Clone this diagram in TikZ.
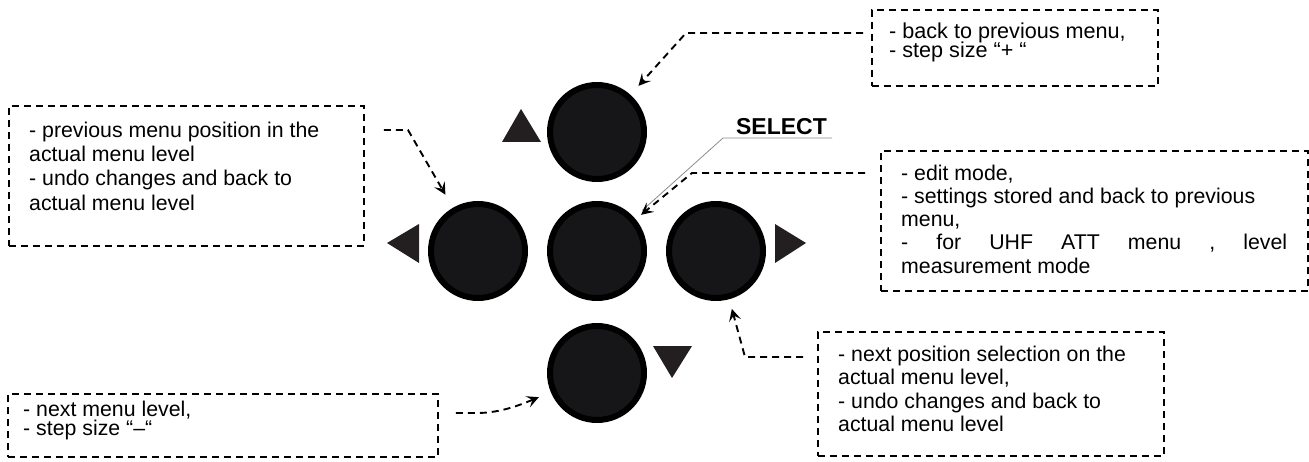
\documentclass[tikz,border=0pt]{standalone}
\usepackage{fontspec}
\setmainfont{Liberation Sans}
\usetikzlibrary{arrows.meta}
\definecolor{btnfill}{HTML}{161618}
\definecolor{tricol}{HTML}{231F20}
\definecolor{leadgray}{HTML}{8C8C8C}
\newcommand\tstrut{\rule{0pt}{17pt}}
\begin{document}
\begin{tikzpicture}[x=1pt,y=1pt,
  btn/.style={circle, draw=black, line width=6pt, fill=btnfill, minimum size=94pt, inner sep=0pt},
  dbox/.style={draw=black, line width=1.8pt, dash pattern=on 7pt off 5pt, rectangle, inner sep=0pt, anchor=south west},
  txt/.style={anchor=north west, inner sep=0pt, align=left, text=black},
  conn/.style={draw=black, line width=1.9pt, dash pattern=on 7pt off 5pt, -{Stealth[length=12pt,width=12pt,inset=5pt]}},
  leader/.style={draw=leadgray, line width=0.8pt}]
\useasboundingbox (0,0) rectangle (1309,461);

% buttons
\node[btn] (btop) at (597,329) {};
\node[btn] (bleft) at (478,210) {};
\node[btn] (bmid) at (597,210) {};
\node[btn] (bright) at (716,210) {};
\node[btn] (bbot) at (597,88) {};

% direction triangles
\fill[tricol] (521,352) -- (502,319) -- (541,319) -- cycle;
\fill[tricol] (387,218) -- (419,237) -- (419,198) -- cycle;
\fill[tricol] (806,218) -- (775,237) -- (775,198) -- cycle;
\fill[tricol] (653,115) -- (692,115) -- (672,83) -- cycle;

% boxes
\node[dbox, minimum width=355pt, minimum height=140pt] (lbox) at (8,214) {};
\node[dbox, minimum width=286pt, minimum height=76pt] (trbox) at (871,374) {};
\node[dbox, minimum width=427pt, minimum height=140pt] (rbox) at (880,169) {};
\node[dbox, minimum width=346pt, minimum height=124pt] (brbox) at (817,4) {};
\node[dbox, minimum width=430pt, minimum height=63pt] (blbox) at (7,3) {};

% texts
\node[txt, font={\fontsize{21.3}{24.3}\selectfont\lineskiplimit=-50pt}] (ltxt) at (29,341)
  {\tstrut- previous menu position in the\\actual menu level\\- undo changes and back to\\actual menu level};
\node[txt, font={\fontsize{21.6}{19}\selectfont\lineskiplimit=-50pt}] (trtxt) at (889,440)
  {\tstrut- back to previous menu,\\- step size “+ “};
\node[txt, font={\fontsize{21.3}{23.25}\selectfont\lineskiplimit=-50pt}] (rtxt) at (901,298)
  {\tstrut- edit mode,\\- settings stored and back to previous\\menu,\\\hbox to 386pt{-\hfill for\hfill UHF\hfill ATT\hfill menu\hfill ,\hfill level}\\measurement mode};
\node[txt, font={\fontsize{21.3}{23.5}\selectfont\lineskiplimit=-50pt}] (brtxt) at (838,117)
  {\tstrut- next position selection on the\\actual menu level,\\- undo changes and back to\\actual menu level};
\node[txt, font={\fontsize{21.3}{19}\selectfont\lineskiplimit=-50pt}] (bltxt) at (23,62)
  {\tstrut- next menu level,\\- step size “–“};

% SELECT label
\node[font={\fontsize{23}{27}\selectfont\bfseries}, anchor=base, inner sep=0pt] (sel) at (781.5,326) {SELECT};
\coordinate (selR) at (832,323);
\coordinate (selL) at (723,323);
\draw[leader, shorten >=11pt] (selR) -- (selL) -- (bmid);

% connectors
\coordinate (c1) at (686,428);
\draw[conn, shorten <=8pt, shorten >=12pt] (trbox.west |- c1) -- (c1) -- (btop);
\coordinate (c2) at (408,331);
\draw[conn, shorten <=19pt, shorten >=15pt] (lbox.east |- c2) -- (c2) -- (bleft);
\coordinate (c3) at (692,288);
\draw[conn, shorten <=15pt, shorten >=7pt] (rbox.west |- c3) -- (c3) -- (bmid);
\coordinate (c4) at (745,104);
\draw[conn, shorten <=14pt, shorten >=10pt] (brbox.west |- c4) -- (c4) -- (bright);
\coordinate (c5) at (477,48);
\draw[conn, shorten <=17pt, shorten >=13pt] (blbox.east |- c5) -- (c5) .. controls (500,48) and (520,56) .. (bbot);
\end{tikzpicture}
\end{document}
